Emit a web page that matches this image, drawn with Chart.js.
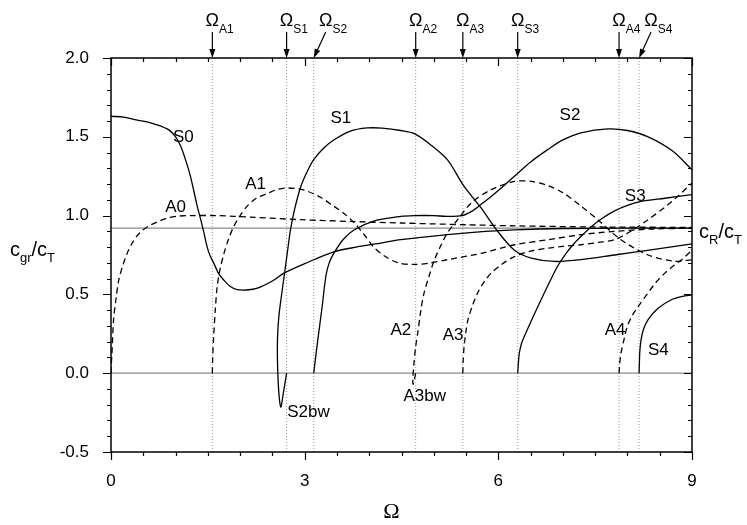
<!DOCTYPE html>
<html>
<head>
<meta charset="utf-8">
<script src="https://cdn.jsdelivr.net/npm/chart.js@4.4.1/dist/chart.umd.min.js"></script>
<style>
  html, body { margin: 0; padding: 0; background: #fff; }
</style>
</head>
<body>
<canvas id="chart" width="747" height="525"></canvas>
<script>
// group velocity curves, [Omega, cgr/cT]
const S0 = [[0,1.63],[0.2,1.625],[0.35,1.61],[0.6,1.59],[0.87,1.55],[1.0,1.5],[1.08,1.44],[1.15,1.36],[1.23,1.25],[1.33,1.07],[1.39,0.974],[1.44,0.89],[1.49,0.80],[1.54,0.74],[1.59,0.70],[1.67,0.63],[1.75,0.59],[1.85,0.55],[1.955,0.53],[2.1,0.528],[2.27,0.54],[2.5,0.585],[2.68,0.635],[3.0,0.695],[3.45,0.77],[3.8,0.80],[4.18,0.826],[4.49,0.847],[5.21,0.879],[5.8,0.90],[6.25,0.91],[7.0,0.918],[8.0,0.92],[9,0.92]];
const S1 = [[2.72,0],[2.68,-0.1],[2.645,-0.19],[2.63,-0.215],[2.61,-0.17],[2.59,-0.06],[2.578,0.1],[2.58,0.23],[2.60,0.36],[2.64,0.49],[2.68,0.61],[2.73,0.76],[2.78,0.91],[2.85,1.05],[2.94,1.185],[3.04,1.28],[3.14,1.355],[3.3,1.43],[3.45,1.48],[3.7,1.535],[3.97,1.556],[4.2,1.555],[4.49,1.54],[4.70,1.52],[4.95,1.45],[5.21,1.355],[5.47,1.185],[5.73,1.05],[5.99,0.90],[6.25,0.78],[6.51,0.73],[6.87,0.709],[7.28,0.72],[7.80,0.75],[8.31,0.78],[9,0.82]];
const S2 = [[3.14,0],[3.20,0.2],[3.27,0.42],[3.33,0.62],[3.38,0.70],[3.45,0.76],[3.6,0.85],[3.77,0.91],[4.07,0.965],[4.49,0.995],[4.70,1.0],[5.0,1.0],[5.2,0.995],[5.44,1.0],[5.6,1.03],[5.73,1.07],[6.0,1.16],[6.25,1.25],[6.5,1.34],[6.77,1.42],[7.0,1.48],[7.28,1.525],[7.7,1.55],[8.0,1.54],[8.32,1.50],[8.7,1.41],[9,1.29]];
const S3 = [[6.30,0],[6.31,0.06],[6.325,0.127],[6.36,0.19],[6.40,0.232],[6.53,0.35],[6.66,0.465],[6.79,0.575],[6.92,0.68],[7.05,0.76],[7.18,0.826],[7.31,0.88],[7.44,0.93],[7.6,0.98],[7.8,1.03],[8.0,1.065],[8.21,1.09],[8.58,1.11],[9,1.133]];
const S4 = [[8.18,0],[8.185,0.06],[8.19,0.127],[8.21,0.21],[8.25,0.28],[8.32,0.34],[8.47,0.41],[8.68,0.466],[8.85,0.487],[9,0.497]];
const A0 = [[0,0],[0.005,0.06],[0.015,0.127],[0.04,0.34],[0.08,0.48],[0.12,0.59],[0.18,0.68],[0.25,0.76],[0.32,0.82],[0.40,0.87],[0.5,0.91],[0.61,0.94],[0.75,0.965],[0.87,0.985],[1.05,0.997],[1.23,1.0],[1.64,1.0],[2.16,0.99],[2.94,0.974],[3.71,0.963],[4.49,0.953],[5.5,0.942],[6.25,0.935],[7.5,0.928],[9,0.925]];
const A1 = [[1.57,0],[1.575,0.1],[1.59,0.23],[1.615,0.40],[1.645,0.55],[1.69,0.66],[1.75,0.76],[1.82,0.85],[1.90,0.93],[2.0,1.0],[2.11,1.06],[2.25,1.11],[2.42,1.14],[2.57,1.165],[2.73,1.175],[2.9,1.17],[3.04,1.155],[3.25,1.115],[3.45,1.06],[3.62,1.01],[3.77,0.953],[3.92,0.88],[4.07,0.80],[4.25,0.74],[4.45,0.70],[4.70,0.69],[4.95,0.70],[5.21,0.72],[5.73,0.76],[6.25,0.815],[6.77,0.847],[7.28,0.879],[7.80,0.90],[8.4,0.915],[9,0.92]];
const A2 = [[4.72,0],[4.70,-0.04],[4.68,-0.07],[4.675,-0.05],[4.69,0.05],[4.72,0.17],[4.75,0.25],[4.80,0.40],[4.85,0.51],[4.93,0.62],[5.01,0.72],[5.11,0.81],[5.21,0.89],[5.37,0.974],[5.58,1.08],[5.89,1.165],[6.25,1.217],[6.51,1.217],[6.77,1.19],[7.02,1.14],[7.28,1.06],[7.54,0.974],[7.90,0.847],[8.32,0.75],[8.73,0.71],[9,0.72]];
const A3 = [[5.45,0],[5.455,0.08],[5.47,0.17],[5.5,0.27],[5.53,0.34],[5.6,0.43],[5.68,0.51],[5.78,0.58],[5.89,0.635],[6.05,0.69],[6.25,0.74],[6.5,0.775],[6.77,0.794],[7.0,0.805],[7.28,0.815],[7.55,0.83],[7.80,0.847],[8.05,0.90],[8.32,0.974],[8.6,1.06],[8.8,1.13],[9,1.207]];
const A4 = [[7.87,0],[7.88,0.06],[7.90,0.127],[7.95,0.22],[8.0,0.30],[8.08,0.37],[8.16,0.42],[8.32,0.51],[8.45,0.58],[8.58,0.635],[8.71,0.68],[8.84,0.72],[9,0.78]];

// cut-off frequencies marked at the top
const cutoffNames = ['A1', 'S1', 'S2', 'A2', 'A3', 'S3', 'A4', 'S4'];
const cutoffValues = [1.57, 2.72, 3.14, 4.72, 5.45, 6.30, 7.87, 8.18];
const cR = 0.92;

const xTickValues = [0, 3, 6, 9];
const yTickValues = [-0.5, 0, 0.5, 1.0, 1.5, 2.0];

const FONT = '"Liberation Sans", Arial, sans-serif';

function pts(arr) {
  return arr.map(function (p) { return { x: p[0], y: p[1] }; });
}

let datasets = [];
[S0, S1, S2, S3, S4].forEach(function (c) {
  datasets.push({ data: pts(c), borderColor: '#000', borderWidth: 1.3, tension: 0.3 });
});
[A0, A1, A2, A3, A4].forEach(function (c) {
  datasets.push({ data: pts(c), borderColor: '#000', borderWidth: 1.3, borderDash: [6, 4], tension: 0.3 });
});
// reference lines
datasets.push({ data: pts([[0, cR], [9, cR]]), borderColor: '#8a8a8a', borderWidth: 1.2, tension: 0 });
datasets.push({ data: pts([[0, 0], [9, 0]]), borderColor: '#8a8a8a', borderWidth: 1.2, tension: 0 });
cutoffValues.forEach(function (v) {
  datasets.push({ data: pts([[v, -0.5], [v, 2.0]]), borderColor: '#9a9a9a', borderWidth: 1, borderDash: [1, 2], tension: 0 });
});


function drawParts(ctx, x, y, parts, big, small) {
  ctx.textAlign = 'left';
  ctx.textBaseline = 'alphabetic';
  let cx = x;
  parts.forEach(function (p) {
    ctx.font = (p[1] ? small : big) + 'px ' + FONT;
    ctx.fillText(p[0], cx, p[1] ? y + 6 : y);
    cx += ctx.measureText(p[0]).width;
  });
}


let framePlugin = {
  id: 'frame',
  afterDraw: function (chart) {
    let ctx = chart.ctx;
    let a = chart.chartArea;
    let xs = chart.scales.x;
    let ys = chart.scales.y;
    ctx.save();
    ctx.strokeStyle = '#000';
    ctx.lineWidth = 1.5;
    ctx.strokeRect(a.left, a.top, a.right - a.left, a.bottom - a.top);

    ctx.lineWidth = 1.2;
    ctx.beginPath();
    for (let i = 0; i <= 18; i++) {
      let px = Math.round(xs.getPixelForValue(i * 0.5)) + 0.5;
      let len = (i % 6 === 0) ? 8 : 4;
      ctx.moveTo(px, a.bottom); ctx.lineTo(px, a.bottom + len);
      ctx.moveTo(px, a.top); ctx.lineTo(px, a.top + len);
    }
    for (let j = 0; j <= 25; j++) {
      let py = Math.round(ys.getPixelForValue(-0.5 + j * 0.1)) + 0.5;
      let len = (j % 5 === 0) ? 8 : 4;
      ctx.moveTo(a.left, py); ctx.lineTo(a.left - len, py);
      ctx.moveTo(a.right, py); ctx.lineTo(a.right - len, py);
    }
    ctx.stroke();

    // cut-off markers with arrows
    ctx.fillStyle = '#000';
    cutoffNames.forEach(function (name, i) {
      let mx = xs.getPixelForValue(cutoffValues[i]);
      let dx = (name === 'S2' || name === 'S4') ? 12 : 0;
      let lx = mx + dx;
      ctx.font = '18px ' + FONT;
      ctx.textAlign = 'center';
      ctx.textBaseline = 'alphabetic';
      ctx.fillText('\u03A9', lx, 26);
      let w = ctx.measureText('\u03A9').width;
      ctx.font = '12px ' + FONT;
      ctx.textAlign = 'left';
      ctx.fillText(name, lx + w / 2, 33);

      let x0 = lx, y0 = 32, x1 = mx, y1 = a.top;
      let ang = Math.atan2(y1 - y0, x1 - x0);
      ctx.beginPath();
      ctx.moveTo(x0, y0);
      ctx.lineTo(x1 - 7 * Math.cos(ang), y1 - 7 * Math.sin(ang));
      ctx.stroke();
      ctx.beginPath();
      ctx.moveTo(x1, y1);
      ctx.lineTo(x1 - 9 * Math.cos(ang) + 3 * Math.sin(ang), y1 - 9 * Math.sin(ang) - 3 * Math.cos(ang));
      ctx.lineTo(x1 - 9 * Math.cos(ang) - 3 * Math.sin(ang), y1 - 9 * Math.sin(ang) + 3 * Math.cos(ang));
      ctx.closePath();
      ctx.fill();
    });

    // curve labels
    let labels = [['S0', 1.12, 1.495], ['A0', 1.0, 1.05], ['A1', 2.24, 1.196], ['S1', 3.56, 1.62],
      ['S2bw', 3.06, -0.25], ['A2', 4.49, 0.275], ['A3', 5.30, 0.243], ['A3bw', 4.86, -0.144],
      ['S3', 8.12, 1.12], ['A4', 7.81, 0.275], ['S4', 8.48, 0.148], ['S2', 7.11, 1.635]];
    ctx.font = '17px ' + FONT;
    ctx.textAlign = 'center';
    ctx.textBaseline = 'middle';
    labels.forEach(function (l) {
      ctx.fillText(l[0], xs.getPixelForValue(l[1]), ys.getPixelForValue(l[2]));
    });

    // axis titles
    drawParts(ctx, 10, 256, [['c', false], ['gr', true], ['/c', false], ['T', true]], 20, 13);
    drawParts(ctx, 699, 238, [['c', false], ['R', true], ['/c', false], ['T', true]], 20, 13);
    ctx.font = '22px "Liberation Serif", "Times New Roman", serif';
    ctx.textAlign = 'center';
    ctx.textBaseline = 'alphabetic';
    ctx.fillText('\u03A9', (a.left + a.right) / 2 - 10, 518);
    ctx.restore();
  }
};


let ctx = document.getElementById('chart').getContext('2d');
let chart = new Chart(ctx, {
  type: 'line',
  data: { datasets: datasets },
  options: {
    responsive: false,
    animation: false,
    devicePixelRatio: 1,
    layout: { padding: { top: 58, right: 55, left: 0, bottom: 0 } },
    plugins: { legend: { display: false }, tooltip: { enabled: false } },
    elements: { point: { radius: 0 } },
    scales: {
      x: {
        type: 'linear', min: 0, max: 9,
        grid: { display: false }, border: { display: false },
        afterBuildTicks: function (s) { s.ticks = xTickValues.map(function (v) { return { value: v }; }); },
        afterFit: function (s) { s.height = 73; },
        ticks: { padding: 11, color: '#000', autoSkip: false, maxRotation: 0, font: { family: FONT, size: 17 },
          callback: function (v) { return String(v); } }
      },
      y: {
        type: 'linear', min: -0.5, max: 2.0,
        grid: { display: false }, border: { display: false },
        afterBuildTicks: function (s) { s.ticks = yTickValues.map(function (v) { return { value: v }; }); },
        afterFit: function (s) { s.width = 111; },
        ticks: { padding: 14, color: '#000', autoSkip: false, font: { family: FONT, size: 17 },
          callback: function (v) { return v.toFixed(1); } }
      }
    }
  },
  plugins: [framePlugin]
});
</script>
</body>
</html>
